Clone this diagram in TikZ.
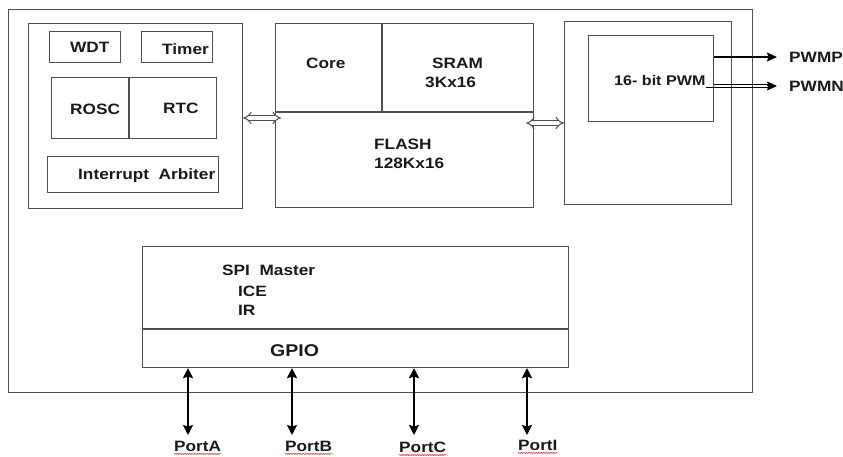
\documentclass[tikz,border=0pt]{standalone}
\usepackage{fontspec}
\usepackage{graphicx}
\setmainfont{Liberation Sans}
\usetikzlibrary{arrows.meta,decorations.pathmorphing}
\newcommand{\hstr}[1]{\scalebox{1.15}[1]{#1}}
\definecolor{lngray}{HTML}{505050}
\definecolor{txt}{HTML}{1A1A1A}
\tikzset{
  blk/.style={draw=lngray, line width=1.1pt, inner sep=0pt, fill=none},
  lbl/.style={inner sep=0pt, anchor=west, text=txt, font=\fontsize{15}{18}\selectfont\bfseries},
  bigl/.style={lbl, font=\fontsize{17}{20}\selectfont\bfseries},
  sepln/.style={draw=lngray, line width=1.1pt},
  hollow/.style={draw=lngray, line width=1pt, double=white, double distance=3.4pt, {Implies}-{Implies}},
  port/.style={draw=black, line width=2.4pt, {Stealth[length=10pt,width=10pt,inset=1.5pt]}-{Stealth[length=10pt,width=10pt,inset=1.5pt]}},
  outarr/.style={draw=black, line width=1.8pt, -{Stealth[length=10pt,width=9pt,inset=1.5pt]}},
  thinln/.style={draw=black, line width=1pt},
  tiponly/.style={draw=black, line width=1pt, -{Stealth[length=10pt,width=9pt,inset=1.5pt]}},
  squig/.style={draw=red!80!white, line width=0.6pt, decorate, decoration={snake, amplitude=0.6pt, segment length=2.5pt}}
}
\begin{document}
\begin{tikzpicture}[x=1pt, y=-1pt]
\useasboundingbox (0,0) rectangle (843,457);
% boxes
\node[blk, minimum width=744pt, minimum height=383pt, anchor=north west] (outer) at (8,9) {};
\node[blk, minimum width=214pt, minimum height=185pt, anchor=north west] (lblk) at (28,23) {};
\node[blk, minimum width=71pt, minimum height=31pt, anchor=north west] (wdt) at (49,31) {};
\node[blk, minimum width=71pt, minimum height=31pt, anchor=north west] (timer) at (141,31) {};
\node[blk, minimum width=165pt, minimum height=61pt, anchor=north west] (rr) at (51,77) {};
\node[blk, minimum width=171pt, minimum height=36pt, anchor=north west] (intarb) at (47,156) {};
\node[blk, minimum width=258pt, minimum height=184pt, anchor=north west] (core) at (275,23) {};
\node[blk, minimum width=167pt, minimum height=183pt, anchor=north west] (rblk) at (564,21) {};
\node[blk, minimum width=125pt, minimum height=86pt, anchor=north west] (pwm) at (588,35) {};
\node[blk, minimum width=426pt, minimum height=121pt, anchor=north west] (spi) at (142,246) {};
% dividers
\draw[sepln] ([xshift=78pt]rr.north west) -- ([xshift=78pt]rr.south west);
\draw[sepln] ([yshift=-89pt]core.north west) -- ([yshift=-89pt]core.north east);
\draw[sepln] ([xshift=107pt]core.north west) -- ([xshift=107pt,yshift=-89pt]core.north west);
\draw[sepln] ([yshift=-83pt]spi.north west) -- ([yshift=-83pt]spi.north east);
% labels
\node[lbl] (twdt) at (70,47) {\hstr{WDT}};
\node[lbl] (ttimer) at (162,49) {\hstr{Timer}};
\node[lbl] (trosc) at (70,109) {\hstr{ROSC}};
\node[lbl] (trtc) at (163,108) {\hstr{RTC}};
\node[lbl] (tint) at (78,176) {\hstr{Interrupt\ \ Arbiter}};
\node[lbl] (tcore) at (306,63) {\hstr{Core}};
\node[lbl] (tsram) at (432,63) {\hstr{SRAM}};
\node[lbl] (tsram2) at (425,82) {\hstr{3Kx16}};
\node[lbl] (tflash) at (374,144) {\hstr{FLASH}};
\node[lbl] (tflash2) at (374,163) {\hstr{128Kx16}};
\node[lbl, font=\fontsize{14}{17}\selectfont\bfseries] (tpwm) at (614,80) {\hstr{16- bit PWM}};
\node[lbl] (pwmp) at (789,57) {\hstr{PWMP}};
\node[lbl] (pwmn) at (789,86) {\hstr{PWMN}};
\node[lbl] (tspi) at (222,270) {\hstr{SPI\ \ Master}};
\node[lbl] (tice) at (238,291) {\hstr{ICE}};
\node[lbl] (tir) at (238,310) {\hstr{IR}};
\node[bigl] (tgpio) at (270,351) {\hstr{GPIO}};
\node[lbl] (porta) at (174,446) {\hstr{PortA}};
\node[lbl] (portb) at (285,446) {\hstr{PortB}};
\node[lbl] (portc) at (399,447) {\hstr{PortC}};
\node[lbl] (porti) at (518,445) {\hstr{PortI}};
% hollow bus arrows
\draw[hollow] ([yshift=-95pt]lblk.north east) -- ([xshift=6pt,yshift=-95pt]core.north west);
\draw[hollow] ([xshift=-8pt,yshift=-100pt]core.north east) -- ([yshift=-102pt]rblk.north west);
% PWM outputs
\draw[outarr] ([yshift=-22pt]pwm.north east) -- ([xshift=-12pt]pwmp.west);
\coordinate (ne) at ([xshift=-12pt]pwmn.west);
\coordinate (ne1) at ([yshift=1.7pt]ne);
\coordinate (ne2) at ([yshift=-1.7pt]ne);
\path (pwm.east |- ne1) coordinate (s1);
\path (pwm.east |- ne2) coordinate (s2);
\draw[thinln] (s1) -- ([xshift=-8pt]ne1);
\draw[thinln] ([xshift=-8pt]s2) -- ([xshift=-8pt]ne2);
\draw[tiponly] ([xshift=-10pt]ne) -- (ne);
% ports
\coordinate (pa) at (188,435);
\coordinate (pb) at (292,435);
\coordinate (pc) at (414,435);
\coordinate (pi) at (527,435);
\draw[port] (spi.south -| pa) -- (pa);
\draw[port] (spi.south -| pb) -- (pb);
\draw[port] (spi.south -| pc) -- (pc);
\draw[port] (spi.south -| pi) -- (pi);
% spell-check squiggles
\foreach \n in {porta,portb,portc,porti}{
  \draw[squig] ([yshift=-2.5pt]\n.south west) -- ([yshift=-2.5pt]\n.south east);
}
\end{tikzpicture}
\end{document}
